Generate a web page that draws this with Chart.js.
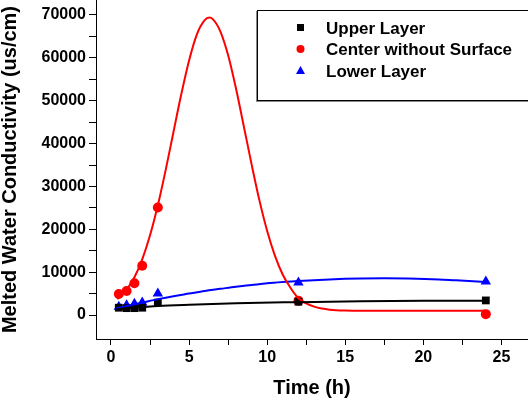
<!DOCTYPE html>
<html>
<head>
<meta charset="utf-8">
<script src="https://cdn.jsdelivr.net/npm/chart.js@4"></script>
<style>
  html, body { margin: 0; padding: 0; background: #fff; overflow: hidden; }
  #wrap { width: 528px; height: 404px; position: relative; }
</style>
</head>
<body>
<div id="wrap"><canvas id="chart" width="528" height="404"></canvas></div>
<script>
// measured points (time in h, conductivity in us/cm)
const times = [0.5, 1, 1.5, 2, 3, 12, 24];
const upperLayer = [1700, 1600, 1600, 1700, 2900, 3100, 3400];
const centerNoSurface = [4900, 5600, 7400, 11500, 25100, 3300, 200];
const lowerLayer = [1900, 2300, 2600, 2900, 5000, 7600, 7800];

// fitted curves
const upperFitT = [0.3, 1, 2, 3, 5, 8, 12, 16, 20, 24];
const upperFit = [1300, 1600, 1850, 2100, 2400, 2750, 3000, 3200, 3300, 3350];

const centerFitT = [0.4, 1, 1.5, 2, 2.5, 3, 3.5, 4, 4.5, 5, 5.5, 6, 6.3, 6.5, 7, 7.5, 8, 8.5, 9, 9.5, 10, 10.5, 11, 11.5, 12, 12.5, 13, 13.5, 14, 15, 16, 18, 20, 22, 24];
const centerFit = [3700, 5900, 8800, 13000, 18600, 25600, 33800, 42700, 51500, 59400, 65500, 68800, 69400, 69100, 66200, 60600, 52900, 44100, 35200, 26800, 19600, 13800, 9400, 6300, 3900, 2700, 1950, 1500, 1250, 1050, 1000, 1000, 1000, 1000, 1000];

const lowerFitT = [0.3, 1, 2, 3, 4, 5, 6, 7, 8, 9, 10, 11, 12, 14, 16, 17.5, 19, 21, 22, 24];
const lowerFit = [1500, 2100, 2900, 3700, 4400, 5000, 5600, 6100, 6600, 7000, 7400, 7700, 7950, 8300, 8500, 8550, 8500, 8300, 8100, 7700];

const xTicks = [0, 2.5, 5, 7.5, 10, 12.5, 15, 17.5, 20, 22.5, 25];
const yTicks = [0, 5000, 10000, 15000, 20000, 25000, 30000, 35000, 40000, 45000, 50000, 55000, 60000, 65000, 70000];

const legendItems = ['Upper Layer', 'Center without Surface', 'Lower Layer'];
const colors = ['#000000', '#ff0000', '#0000ff'];

const pts = (xs, ys) => xs.map((x, i) => ({ x: x, y: ys[i] }));

const FONT = "'Liberation Sans', Arial, sans-serif";

function noEdgePadding(s) {
  s.paddingTop = 0;
  s.paddingBottom = 0;
  s.paddingLeft = 0;
  s.paddingRight = 0;
}

const legendPlugin = {
  id: 'boxLegend',
  afterDraw(chart) {
    const ctx = chart.ctx;
    ctx.save();
    ctx.fillStyle = '#888';
    ctx.fillRect(256, 11, 1, 91);
    ctx.fillRect(257, 101, 280, 1);
    ctx.strokeStyle = '#000';
    ctx.lineWidth = 1;
    ctx.strokeRect(257.5, 10.5, 280, 90);
    const rows = [28, 49, 71];
    ctx.font = 'bold 17px ' + FONT;
    ctx.textBaseline = 'middle';
    legendItems.forEach((label, i) => {
      const y = rows[i];
      ctx.fillStyle = colors[i];
      if (i === 0) {
        ctx.fillRect(297, y - 4, 7, 7);
      } else if (i === 1) {
        ctx.beginPath();
        ctx.arc(300.5, y, 4, 0, Math.PI * 2);
        ctx.fill();
      } else {
        ctx.beginPath();
        ctx.moveTo(300.5, y - 5);
        ctx.lineTo(305, y + 3);
        ctx.lineTo(296, y + 3);
        ctx.closePath();
        ctx.fill();
      }
      ctx.fillStyle = '#000';
      ctx.fillText(label, 326, y + 1);
    });
    ctx.restore();
  }
};

new Chart(document.getElementById('chart').getContext('2d'), {
  type: 'scatter',
  data: {
    datasets: [
      { data: pts(upperFitT, upperFit), showLine: true, borderColor: '#000', borderWidth: 2, pointRadius: 0, cubicInterpolationMode: 'monotone' },
      { data: pts(centerFitT, centerFit), showLine: true, borderColor: '#ff0000', borderWidth: 2, pointRadius: 0, cubicInterpolationMode: 'monotone' },
      { data: pts(lowerFitT, lowerFit), showLine: true, borderColor: '#0000ff', borderWidth: 2, pointRadius: 0, cubicInterpolationMode: 'monotone' },
      { label: legendItems[0], data: pts(times, upperLayer), pointStyle: 'rect', pointRadius: 5.5, backgroundColor: '#000', borderWidth: 0 },
      { label: legendItems[1], data: pts(times, centerNoSurface), pointStyle: 'circle', pointRadius: 5, backgroundColor: '#ff0000', borderWidth: 0 },
      { label: legendItems[2], data: pts(times, lowerLayer), pointStyle: 'triangle', pointRadius: 6, backgroundColor: '#0000ff', borderWidth: 0 }
    ]
  },
  options: {
    responsive: false,
    animation: false,
    layout: { padding: 0, autoPadding: false },
    plugins: { legend: { display: false }, tooltip: { enabled: false } },
    scales: {
      x: {
        type: 'linear',
        min: -0.96,
        max: 26.7,
        afterBuildTicks: (s) => { s.ticks = xTicks.map(v => ({ value: v })); },
        afterFit: (s) => { s.height = 65; noEdgePadding(s); },
        grid: { drawOnChartArea: false, drawTicks: true, tickLength: 6, tickColor: '#000' },
        border: { color: '#000', width: 1 },
        ticks: {
          color: '#000',
          padding: 3,
          maxRotation: 0,
          autoSkip: false,
          font: { family: FONT, size: 16, weight: 'bold' },
          callback: (v) => (v % 5 === 0 ? String(v) : '')
        },
        title: {
          display: true,
          text: 'Time (h)',
          color: '#000',
          font: { family: FONT, size: 20, weight: 'bold' },
          padding: { top: 0, bottom: 4 }
        }
      },
      y: {
        min: -5600,
        max: 73500,
        afterBuildTicks: (s) => { s.ticks = yTicks.map(v => ({ value: v })); },
        afterFit: (s) => { s.width = 96; noEdgePadding(s); },
        grid: { drawOnChartArea: false, drawTicks: true, tickLength: 7, tickColor: '#000' },
        border: { color: '#000', width: 1 },
        ticks: {
          color: '#000',
          padding: 3,
          autoSkip: false,
          font: { family: FONT, size: 16, weight: 'bold' },
          callback: (v) => (v % 10000 === 0 ? String(v) : '')
        },
        title: {
          display: true,
          text: 'Melted Water Conductivity (us/cm)',
          color: '#000',
          font: { family: FONT, size: 20, weight: 'bold', lineHeight: 1 },
          padding: { top: 0, bottom: 0 }
        }
      }
    }
  },
  plugins: [legendPlugin]
});
</script>
</body>
</html>
